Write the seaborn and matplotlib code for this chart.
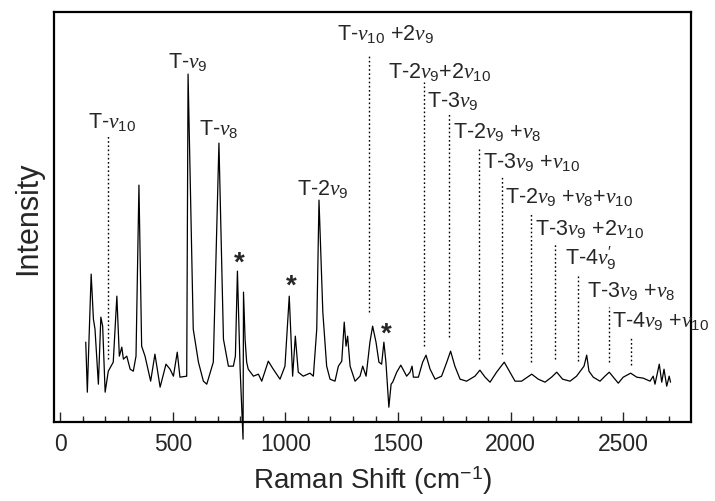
import numpy as np
import pandas as pd
import matplotlib
matplotlib.use('Agg')
import matplotlib.pyplot as plt
import seaborn as sns

# Raman spectrum (arbitrary intensity units)
shift = [114, 121, 126, 138, 148, 155, 170, 181, 189, 200, 214, 236, 252, 263, 274,
         281, 296, 311, 325, 337, 350, 362, 377, 402, 421, 444, 470, 488, 503, 520,
         532, 562, 568, 591, 614, 636, 651, 680, 705, 725, 747, 769, 778, 787, 799,
         812, 814, 821, 828, 835, 858, 880, 895, 924, 946, 976, 998, 1017, 1032, 1044,
         1057, 1079, 1109, 1124, 1139, 1149, 1166, 1183, 1198, 1220, 1235, 1250, 1261, 1269, 1276,
         1287, 1309, 1331, 1343, 1358, 1375, 1387, 1402, 1415, 1427, 1437, 1446, 1459, 1469, 1476,
         1494, 1512, 1538, 1553, 1562, 1568, 1590, 1609, 1624, 1642, 1664, 1693, 1716, 1733, 1752,
         1775, 1804, 1841, 1863, 1886, 1908, 1937, 1971, 1996, 2019, 2048, 2093, 2122, 2152, 2181,
         2204, 2230, 2263, 2292, 2315, 2325, 2337, 2347, 2366, 2396, 2418, 2437, 2455, 2477, 2499,
         2532, 2559, 2588, 2618, 2632, 2640, 2659, 2670, 2680, 2692, 2703, 2709]
intensity = [80, 30, 66, 148, 103, 93, 38, 105, 96, 30, 51, 60, 126, 66, 75,
             63, 66, 53, 51, 66, 237, 76, 66, 41, 68, 35, 58, 53, 46, 70,
             45, 46, 348, 93, 60, 41, 38, 60, 279, 83, 56, 56, 66, 151, 53,
             -17, 130, 83, 60, 53, 46, 48, 41, 61, 53, 43, 56, 126, 46, 86,
             50, 46, 49, 46, 93, 222, 110, 56, 43, 41, 56, 61, 100, 76, 86,
             56, 41, 46, 56, 46, 80, 96, 80, 60, 58, 80, 60, 15, 38, 40,
             50, 57, 46, 50, 56, 45, 45, 60, 67, 53, 43, 46, 60, 71, 56,
             43, 41, 46, 52, 45, 40, 50, 60, 50, 41, 41, 48, 43, 40, 45,
             50, 43, 41, 46, 53, 56, 67, 51, 45, 41, 46, 50, 45, 39, 45,
             49, 45, 44, 41, 46, 38, 58, 40, 53, 36, 46, 40]

# assignments marked with dotted lines
line_labels = [r'T-$\nu_{10}$',
               r'T-$\nu_{10}$ +2$\nu_9$',
               r'T-2$\nu_9$+2$\nu_{10}$',
               r'T-3$\nu_9$',
               r'T-2$\nu_9$ +$\nu_8$',
               r'T-3$\nu_9$ +$\nu_{10}$',
               r'T-2$\nu_9$ +$\nu_8$+$\nu_{10}$',
               r'T-3$\nu_9$ +2$\nu_{10}$',
               r'T-4$\nu_9^{\prime}$',
               r'T-3$\nu_9$ +$\nu_8$',
               r'T-4$\nu_9$ +$\nu_{10}$']
line_pos = [213, 1371, 1615, 1726, 1857, 1963, 2090, 2196, 2298, 2436, 2533]
line_top = [288, 366, 340, 308, 275, 246, 210, 178, 146, 115, 86]
line_bottom = [63, 110, 76, 85, 63, 68, 60, 63, 61, 60, 57]
label_x = [124, 1229, 1455, 1628, 1744, 1877, 1974, 2107, 2240, 2338, 2449]
label_y = [295, 383, 345, 316, 285, 255, 220, 188, 158, 126, 96]

# peaks labelled directly
peak_labels = [r'T-$\nu_9$', r'T-$\nu_8$', r'T-2$\nu_9$']
peak_label_x = [479, 617, 1051]
peak_label_y = [355, 288, 228]

# starred bands
star_x = [794, 1025, 1446]
star_y = [160, 137, 89]

sns.set_style('ticks')
plt.rcParams['font.family'] = ['Liberation Sans', 'DejaVu Sans']
plt.rcParams['mathtext.fontset'] = 'custom'
plt.rcParams['mathtext.rm'] = 'Liberation Sans'
plt.rcParams['mathtext.it'] = 'Liberation Serif:italic'

fig = plt.figure(figsize=(7.15, 5.02), dpi=100)
ax = fig.add_axes([0.0755, 0.157, 0.891, 0.817])

spec = pd.DataFrame({'shift': shift, 'intensity': intensity})
sns.lineplot(data=spec, x='shift', y='intensity', color='black', lw=0.9,
             estimator=None, sort=False, ax=ax, clip_on=False)

ax.vlines(line_pos, line_bottom, line_top, colors='black', linestyles=(0, (1.2, 1.8)), lw=1.0)
for s, x, y in zip(line_labels, label_x, label_y):
    ax.text(x, y, s, fontsize=15.5, ha='left', va='baseline', clip_on=False)
for s, x, y in zip(peak_labels, peak_label_x, peak_label_y):
    ax.text(x, y, s, fontsize=15.5, ha='left', va='baseline')
for x, y in zip(star_x, star_y):
    ax.text(x, y, '*', fontsize=20, fontweight='bold', ha='center', va='center')

ax.set_xlim(-27, 2800)
ax.set_ylim(0, 410)
ax.set_xticks([0, 500, 1000, 1500, 2000, 2500])
ax.set_xticks(np.arange(100, 2800, 100), minor=True)
ax.set_yticks([])
ax.tick_params(axis='x', which='major', direction='in', length=7, width=1, labelsize=16.5, pad=7)
ax.tick_params(axis='x', which='minor', direction='in', length=4, width=1)
for sp in ax.spines.values():
    sp.set_linewidth(1.6)
    sp.set_color('black')

ax.set_xlabel(r'Raman Shift (cm$^{-1}$)', fontsize=20, labelpad=6)
ax.set_ylabel('Intensity', fontsize=22, labelpad=8)

fig.savefig('out.png', dpi=100)
